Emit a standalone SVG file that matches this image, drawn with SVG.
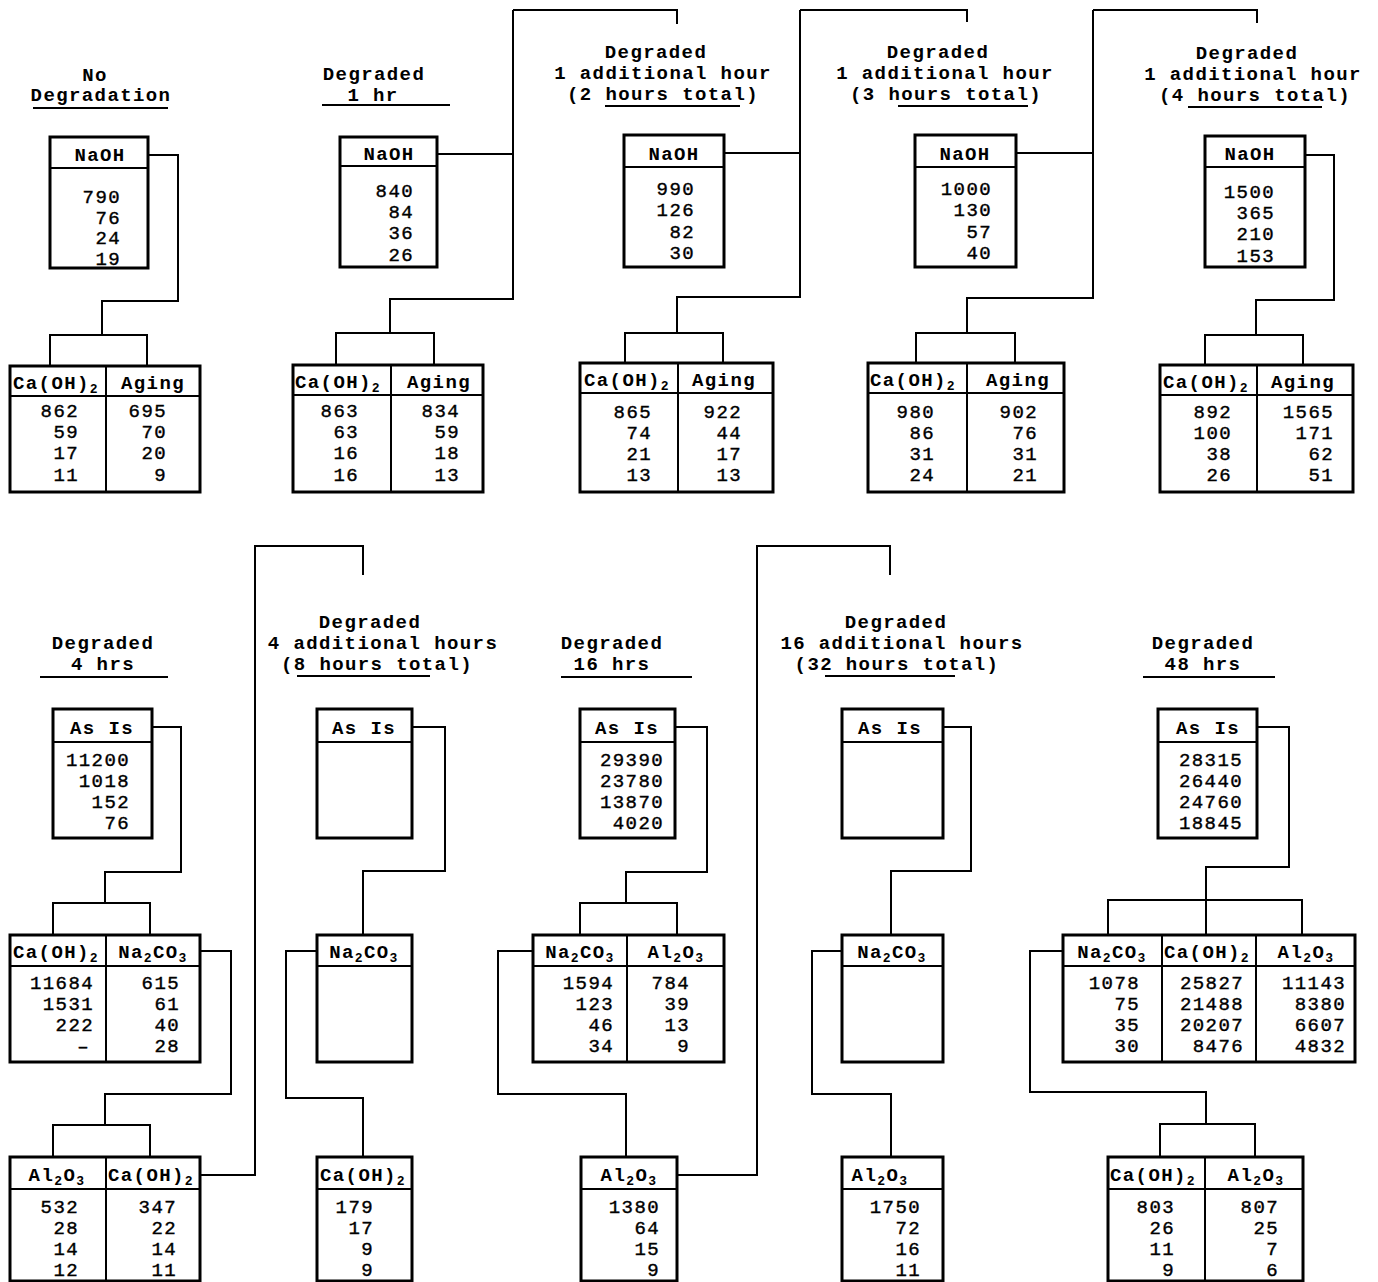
<svg xmlns="http://www.w3.org/2000/svg" width="1378" height="1282" viewBox="0 0 1378 1282">
<style>
text{font-family:"Liberation Mono","DejaVu Sans Mono",monospace;font-size:19px;letter-spacing:1.4px;fill:#000}
.b{font-weight:bold}
.m{text-anchor:middle}
.e{text-anchor:end;stroke:#000;stroke-width:0.4}
.s{font-size:13px}
.box{fill:none;stroke:#000;stroke-width:3}
.hl{stroke:#000;stroke-width:2;fill:none}
.con{fill:none;stroke:#000;stroke-width:2}
.ul{stroke:#000;stroke-width:2}
</style>
<rect width="1378" height="1282" fill="#fff"/>

<g id="connectors">
<path class="con" d="M148,155 H178 V301 H102 V335 M50,365 V335 H147 V365"/>
<path class="con" d="M437,154 H513 M513,10 V299 H390 V333 M336,365 V333 H434 V365 M513,10 H677 V24"/>
<path class="con" d="M724,153 H800 M800,10 V297 H677 V333 M625,363 V333 H723 V363 M800,10 H967 V22"/>
<path class="con" d="M1016,153 H1093 M1093,10 V298 H967 V333 M916,363 V333 H1015 V363 M1093,10 H1257 V23"/>
<path class="con" d="M1305,155 H1334 V300 H1256 V335 M1205,365 V335 H1303 V365"/>
<path class="con" d="M152,727 H181 V872 H105 V903 M53,935 V903 H150 V935"/>
<path class="con" d="M200,951 H231 V1094 H105 V1125 M53,1157 V1125 H150 V1157"/>
<path class="con" d="M200,1175 H255 V546 H363 V575"/>
<path class="con" d="M412,727 H445 V871 H363 V935"/>
<path class="con" d="M317,951 H286 V1098 H363 V1157"/>
<path class="con" d="M675,727 H707 V872 H626 V903 M580,935 V903 H677 V935"/>
<path class="con" d="M533,951 H498 V1094 H626 V1157"/>
<path class="con" d="M677,1175 H757 V546 H890 V575"/>
<path class="con" d="M943,727 H971 V871 H891 V935"/>
<path class="con" d="M842,951 H812 V1094 H891 V1157"/>
<path class="con" d="M1257,727 H1289 V867 H1206 V935 M1108,935 V900 H1302 V935"/>
<path class="con" d="M1063,951 H1030 V1092 H1206 V1124 M1160,1157 V1124 H1255 V1157"/>
</g>

<!-- TOP ROW -->
<g id="title-nodeg">
<text class="b m" x="95" y="81">No</text>
<text class="b m" x="101" y="101">Degradation</text>
<line class="ul" x1="33" y1="108" x2="168" y2="108"/>
</g>
<g id="n1-naoh">
<rect class="box" x="50" y="137" width="98" height="131"/>
<line class="hl" x1="50" y1="168" x2="148" y2="168"/>
<text class="b m" x="100" y="161">NaOH</text>
<text class="e" x="121" y="203">790</text>
<text class="e" x="121" y="224">76</text>
<text class="e" x="121" y="244">24</text>
<text class="e" x="121" y="265">19</text>
</g>
<g id="n1-table">
<rect class="box" x="10" y="366" width="190" height="126"/>
<line class="hl" x1="106" y1="366" x2="106" y2="492"/>
<line class="hl" x1="10" y1="396" x2="200" y2="396"/>
<text class="b" x="13" y="389">Ca(OH)<tspan class="s" dy="4">2</tspan></text>
<text class="b m" x="153" y="389">Aging</text>
<text class="e" x="79" y="417">862</text><text class="e" x="79" y="438">59</text><text class="e" x="79" y="459">17</text><text class="e" x="79" y="481">11</text>
<text class="e" x="167" y="417">695</text><text class="e" x="167" y="438">70</text><text class="e" x="167" y="459">20</text><text class="e" x="167" y="481">9</text>
</g>

<g id="title-1hr">
<text class="b m" x="374" y="80">Degraded</text>
<text class="b m" x="373" y="101">1 hr</text>
<line class="ul" x1="322" y1="105" x2="450" y2="105"/>
</g>
<g id="n2-naoh">
<rect class="box" x="340" y="137" width="97" height="130"/>
<line class="hl" x1="340" y1="166" x2="437" y2="166"/>
<text class="b m" x="389" y="160">NaOH</text>
<text class="e" x="414" y="197">840</text>
<text class="e" x="414" y="218">84</text>
<text class="e" x="414" y="239">36</text>
<text class="e" x="414" y="261">26</text>
</g>
<g id="n2-table">
<rect class="box" x="293" y="365" width="190" height="127"/>
<line class="hl" x1="391" y1="365" x2="391" y2="492"/>
<line class="hl" x1="293" y1="395" x2="483" y2="395"/>
<text class="b" x="295" y="388">Ca(OH)<tspan class="s" dy="4">2</tspan></text>
<text class="b m" x="439" y="388">Aging</text>
<text class="e" x="359" y="417">863</text><text class="e" x="359" y="438">63</text><text class="e" x="359" y="459">16</text><text class="e" x="359" y="481">16</text>
<text class="e" x="460" y="417">834</text><text class="e" x="460" y="438">59</text><text class="e" x="460" y="459">18</text><text class="e" x="460" y="481">13</text>
</g>

<g id="title-2h">
<text class="b m" x="656" y="58">Degraded</text>
<text class="b m" x="663" y="79">1 additional hour</text>
<text class="b m" x="663" y="100">(2 hours total)</text>
<line class="ul" x1="605" y1="106" x2="740" y2="106"/>
</g>
<g id="n3-naoh">
<rect class="box" x="624" y="135" width="100" height="132"/>
<line class="hl" x1="624" y1="167" x2="724" y2="167"/>
<text class="b m" x="674" y="160">NaOH</text>
<text class="e" x="695" y="195">990</text>
<text class="e" x="695" y="216">126</text>
<text class="e" x="695" y="238">82</text>
<text class="e" x="695" y="259">30</text>
</g>
<g id="n3-table">
<rect class="box" x="580" y="363" width="193" height="129"/>
<line class="hl" x1="678" y1="363" x2="678" y2="492"/>
<line class="hl" x1="580" y1="393" x2="773" y2="393"/>
<text class="b" x="584" y="386">Ca(OH)<tspan class="s" dy="4">2</tspan></text>
<text class="b m" x="724" y="386">Aging</text>
<text class="e" x="652" y="418">865</text><text class="e" x="652" y="439">74</text><text class="e" x="652" y="460">21</text><text class="e" x="652" y="481">13</text>
<text class="e" x="742" y="418">922</text><text class="e" x="742" y="439">44</text><text class="e" x="742" y="460">17</text><text class="e" x="742" y="481">13</text>
</g>

<g id="title-3h">
<text class="b m" x="938" y="58">Degraded</text>
<text class="b m" x="945" y="79">1 additional hour</text>
<text class="b m" x="946" y="100">(3 hours total)</text>
<line class="ul" x1="898" y1="106" x2="1028" y2="106"/>
</g>
<g id="n4-naoh">
<rect class="box" x="915" y="135" width="101" height="132"/>
<line class="hl" x1="915" y1="167" x2="1016" y2="167"/>
<text class="b m" x="965" y="160">NaOH</text>
<text class="e" x="992" y="195">1000</text>
<text class="e" x="992" y="216">130</text>
<text class="e" x="992" y="238">57</text>
<text class="e" x="992" y="259">40</text>
</g>
<g id="n4-table">
<rect class="box" x="868" y="363" width="196" height="129"/>
<line class="hl" x1="967" y1="363" x2="967" y2="492"/>
<line class="hl" x1="868" y1="393" x2="1064" y2="393"/>
<text class="b" x="870" y="386">Ca(OH)<tspan class="s" dy="4">2</tspan></text>
<text class="b m" x="1018" y="386">Aging</text>
<text class="e" x="935" y="418">980</text><text class="e" x="935" y="439">86</text><text class="e" x="935" y="460">31</text><text class="e" x="935" y="481">24</text>
<text class="e" x="1038" y="418">902</text><text class="e" x="1038" y="439">76</text><text class="e" x="1038" y="460">31</text><text class="e" x="1038" y="481">21</text>
</g>

<g id="title-4h">
<text class="b m" x="1247" y="59">Degraded</text>
<text class="b m" x="1253" y="80">1 additional hour</text>
<text class="b m" x="1255" y="101">(4 hours total)</text>
<line class="ul" x1="1188" y1="107" x2="1322" y2="107"/>
</g>
<g id="n5-naoh">
<rect class="box" x="1205" y="136" width="100" height="131"/>
<line class="hl" x1="1205" y1="167" x2="1305" y2="167"/>
<text class="b m" x="1250" y="160">NaOH</text>
<text class="e" x="1275" y="198">1500</text>
<text class="e" x="1275" y="219">365</text>
<text class="e" x="1275" y="240">210</text>
<text class="e" x="1275" y="262">153</text>
</g>
<g id="n5-table">
<rect class="box" x="1160" y="365" width="193" height="127"/>
<line class="hl" x1="1257" y1="365" x2="1257" y2="492"/>
<line class="hl" x1="1160" y1="395" x2="1353" y2="395"/>
<text class="b" x="1163" y="388">Ca(OH)<tspan class="s" dy="4">2</tspan></text>
<text class="b m" x="1303" y="388">Aging</text>
<text class="e" x="1232" y="418">892</text><text class="e" x="1232" y="439">100</text><text class="e" x="1232" y="460">38</text><text class="e" x="1232" y="481">26</text>
<text class="e" x="1334" y="418">1565</text><text class="e" x="1334" y="439">171</text><text class="e" x="1334" y="460">62</text><text class="e" x="1334" y="481">51</text>
</g>

<!-- BOTTOM HALF -->
<g id="title-4hrs">
<text class="b m" x="103" y="649">Degraded</text>
<text class="b m" x="103" y="670">4 hrs</text>
<line class="ul" x1="40" y1="677" x2="168" y2="677"/>
</g>
<g id="a-asis">
<rect class="box" x="53" y="709" width="99" height="129"/>
<line class="hl" x1="53" y1="742" x2="152" y2="742"/>
<text class="b m" x="102" y="734">As Is</text>
<text class="e" x="130" y="766">11200</text><text class="e" x="130" y="787">1018</text><text class="e" x="130" y="808">152</text><text class="e" x="130" y="829">76</text>
</g>
<g id="a-table1">
<rect class="box" x="10" y="935" width="190" height="127"/>
<line class="hl" x1="106" y1="935" x2="106" y2="1062"/>
<line class="hl" x1="10" y1="966" x2="200" y2="966"/>
<text class="b" x="13" y="958">Ca(OH)<tspan class="s" dy="4">2</tspan></text>
<text class="b m" x="153" y="958">Na<tspan class="s" dy="4">2</tspan><tspan dy="-4">CO</tspan><tspan class="s" dy="4">3</tspan></text>
<text class="e" x="94" y="989">11684</text><text class="e" x="94" y="1010">1531</text><text class="e" x="94" y="1031">222</text><text class="e" x="90" y="1052">–</text>
<text class="e" x="180" y="989">615</text><text class="e" x="180" y="1010">61</text><text class="e" x="180" y="1031">40</text><text class="e" x="180" y="1052">28</text>
</g>
<g id="a-table2">
<rect class="box" x="10" y="1157" width="190" height="124"/>
<line class="hl" x1="106" y1="1157" x2="106" y2="1281"/>
<line class="hl" x1="10" y1="1189" x2="200" y2="1189"/>
<text class="b m" x="57" y="1181">Al<tspan class="s" dy="4">2</tspan><tspan dy="-4">O</tspan><tspan class="s" dy="4">3</tspan></text>
<text class="b" x="108" y="1181">Ca(OH)<tspan class="s" dy="4">2</tspan></text>
<text class="e" x="79" y="1213">532</text><text class="e" x="79" y="1234">28</text><text class="e" x="79" y="1255">14</text><text class="e" x="79" y="1276">12</text>
<text class="e" x="177" y="1213">347</text><text class="e" x="177" y="1234">22</text><text class="e" x="177" y="1255">14</text><text class="e" x="177" y="1276">11</text>
</g>

<g id="title-8h">
<text class="b m" x="370" y="628">Degraded</text>
<text class="b m" x="383" y="649">4 additional hours</text>
<text class="b m" x="377" y="670">(8 hours total)</text>
<line class="ul" x1="297" y1="676" x2="430" y2="676"/>
</g>
<g id="b-asis">
<rect class="box" x="317" y="709" width="95" height="129"/>
<line class="hl" x1="317" y1="742" x2="412" y2="742"/>
<text class="b m" x="364" y="734">As Is</text>
</g>
<g id="b-na2co3">
<rect class="box" x="317" y="935" width="95" height="127"/>
<line class="hl" x1="317" y1="966" x2="412" y2="966"/>
<text class="b m" x="364" y="958">Na<tspan class="s" dy="4">2</tspan><tspan dy="-4">CO</tspan><tspan class="s" dy="4">3</tspan></text>
</g>
<g id="b-caoh2">
<rect class="box" x="317" y="1157" width="95" height="124"/>
<line class="hl" x1="317" y1="1189" x2="412" y2="1189"/>
<text class="b" x="320" y="1181">Ca(OH)<tspan class="s" dy="4">2</tspan></text>
<text class="e" x="374" y="1213">179</text><text class="e" x="374" y="1234">17</text><text class="e" x="374" y="1255">9</text><text class="e" x="374" y="1276">9</text>
</g>

<g id="title-16hrs">
<text class="b m" x="612" y="649">Degraded</text>
<text class="b m" x="612" y="670">16 hrs</text>
<line class="ul" x1="561" y1="677" x2="692" y2="677"/>
</g>
<g id="c-asis">
<rect class="box" x="580" y="709" width="95" height="129"/>
<line class="hl" x1="580" y1="742" x2="675" y2="742"/>
<text class="b m" x="627" y="734">As Is</text>
<text class="e" x="664" y="766">29390</text><text class="e" x="664" y="787">23780</text><text class="e" x="664" y="808">13870</text><text class="e" x="664" y="829">4020</text>
</g>
<g id="c-table">
<rect class="box" x="533" y="935" width="191" height="127"/>
<line class="hl" x1="627" y1="935" x2="627" y2="1062"/>
<line class="hl" x1="533" y1="966" x2="724" y2="966"/>
<text class="b m" x="580" y="958">Na<tspan class="s" dy="4">2</tspan><tspan dy="-4">CO</tspan><tspan class="s" dy="4">3</tspan></text>
<text class="b m" x="676" y="958">Al<tspan class="s" dy="4">2</tspan><tspan dy="-4">O</tspan><tspan class="s" dy="4">3</tspan></text>
<text class="e" x="614" y="989">1594</text><text class="e" x="614" y="1010">123</text><text class="e" x="614" y="1031">46</text><text class="e" x="614" y="1052">34</text>
<text class="e" x="690" y="989">784</text><text class="e" x="690" y="1010">39</text><text class="e" x="690" y="1031">13</text><text class="e" x="690" y="1052">9</text>
</g>
<g id="c-al2o3">
<rect class="box" x="581" y="1157" width="96" height="124"/>
<line class="hl" x1="581" y1="1189" x2="677" y2="1189"/>
<text class="b m" x="629" y="1181">Al<tspan class="s" dy="4">2</tspan><tspan dy="-4">O</tspan><tspan class="s" dy="4">3</tspan></text>
<text class="e" x="660" y="1213">1380</text><text class="e" x="660" y="1234">64</text><text class="e" x="660" y="1255">15</text><text class="e" x="660" y="1276">9</text>
</g>

<g id="title-32h">
<text class="b m" x="896" y="628">Degraded</text>
<text class="b m" x="902" y="649">16 additional hours</text>
<text class="b m" x="897" y="670">(32 hours total)</text>
<line class="ul" x1="825" y1="676" x2="955" y2="676"/>
</g>
<g id="d-asis">
<rect class="box" x="842" y="709" width="101" height="129"/>
<line class="hl" x1="842" y1="742" x2="943" y2="742"/>
<text class="b m" x="890" y="734">As Is</text>
</g>
<g id="d-na2co3">
<rect class="box" x="842" y="935" width="101" height="127"/>
<line class="hl" x1="842" y1="966" x2="943" y2="966"/>
<text class="b m" x="892" y="958">Na<tspan class="s" dy="4">2</tspan><tspan dy="-4">CO</tspan><tspan class="s" dy="4">3</tspan></text>
</g>
<g id="d-al2o3">
<rect class="box" x="842" y="1157" width="101" height="124"/>
<line class="hl" x1="842" y1="1189" x2="943" y2="1189"/>
<text class="b m" x="880" y="1181">Al<tspan class="s" dy="4">2</tspan><tspan dy="-4">O</tspan><tspan class="s" dy="4">3</tspan></text>
<text class="e" x="921" y="1213">1750</text><text class="e" x="921" y="1234">72</text><text class="e" x="921" y="1255">16</text><text class="e" x="921" y="1276">11</text>
</g>

<g id="title-48hrs">
<text class="b m" x="1203" y="649">Degraded</text>
<text class="b m" x="1203" y="670">48 hrs</text>
<line class="ul" x1="1143" y1="677" x2="1275" y2="677"/>
</g>
<g id="e-asis">
<rect class="box" x="1158" y="709" width="99" height="129"/>
<line class="hl" x1="1158" y1="742" x2="1257" y2="742"/>
<text class="b m" x="1208" y="734">As Is</text>
<text class="e" x="1243" y="766">28315</text><text class="e" x="1243" y="787">26440</text><text class="e" x="1243" y="808">24760</text><text class="e" x="1243" y="829">18845</text>
</g>
<g id="e-table">
<rect class="box" x="1063" y="935" width="292" height="127"/>
<line class="hl" x1="1162" y1="935" x2="1162" y2="1062"/>
<line class="hl" x1="1256" y1="935" x2="1256" y2="1062"/>
<line class="hl" x1="1063" y1="966" x2="1355" y2="966"/>
<text class="b m" x="1112" y="958">Na<tspan class="s" dy="4">2</tspan><tspan dy="-4">CO</tspan><tspan class="s" dy="4">3</tspan></text>
<text class="b" x="1164" y="958">Ca(OH)<tspan class="s" dy="4">2</tspan></text>
<text class="b m" x="1306" y="958">Al<tspan class="s" dy="4">2</tspan><tspan dy="-4">O</tspan><tspan class="s" dy="4">3</tspan></text>
<text class="e" x="1140" y="989">1078</text><text class="e" x="1140" y="1010">75</text><text class="e" x="1140" y="1031">35</text><text class="e" x="1140" y="1052">30</text>
<text class="e" x="1244" y="989">25827</text><text class="e" x="1244" y="1010">21488</text><text class="e" x="1244" y="1031">20207</text><text class="e" x="1244" y="1052">8476</text>
<text class="e" x="1346" y="989">11143</text><text class="e" x="1346" y="1010">8380</text><text class="e" x="1346" y="1031">6607</text><text class="e" x="1346" y="1052">4832</text>
</g>
<g id="e-table2">
<rect class="box" x="1108" y="1157" width="195" height="124"/>
<line class="hl" x1="1205" y1="1157" x2="1205" y2="1281"/>
<line class="hl" x1="1108" y1="1189" x2="1303" y2="1189"/>
<text class="b" x="1110" y="1181">Ca(OH)<tspan class="s" dy="4">2</tspan></text>
<text class="b m" x="1256" y="1181">Al<tspan class="s" dy="4">2</tspan><tspan dy="-4">O</tspan><tspan class="s" dy="4">3</tspan></text>
<text class="e" x="1175" y="1213">803</text><text class="e" x="1175" y="1234">26</text><text class="e" x="1175" y="1255">11</text><text class="e" x="1175" y="1276">9</text>
<text class="e" x="1279" y="1213">807</text><text class="e" x="1279" y="1234">25</text><text class="e" x="1279" y="1255">7</text><text class="e" x="1279" y="1276">6</text>
</g>
</svg>
